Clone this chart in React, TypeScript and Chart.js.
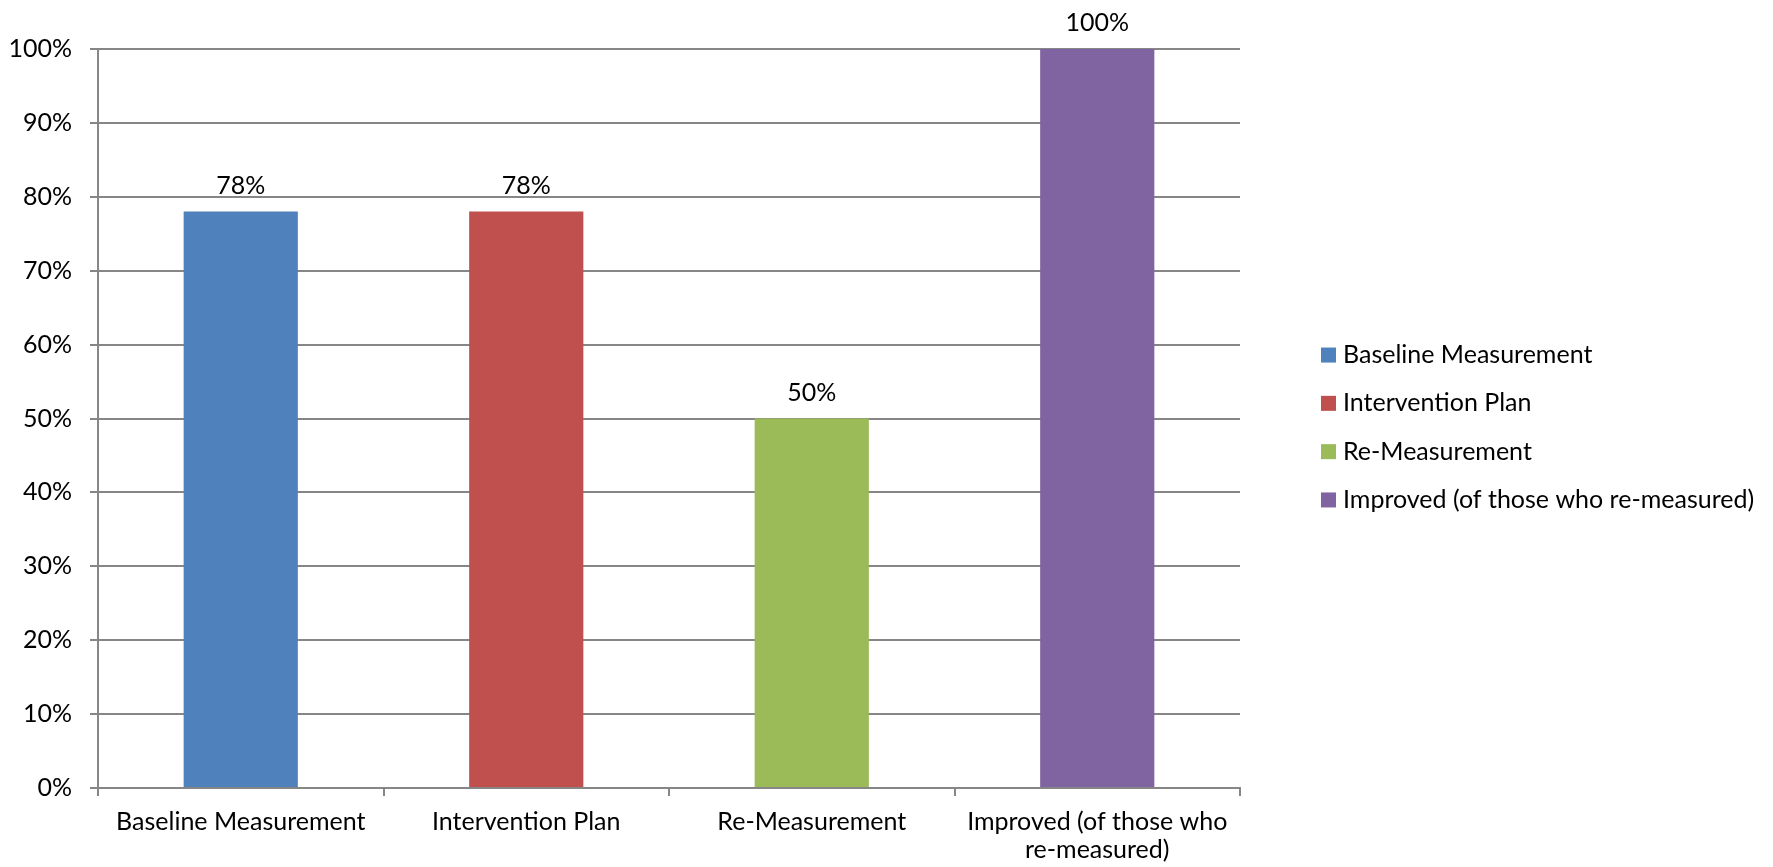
import React, { useEffect, useRef } from "react";
import { Chart, registerables } from "chart.js";

Chart.register(...registerables);

// Categories shown in the legend
const categories: string[] = [
  "Baseline Measurement",
  "Intervention Plan",
  "Re-Measurement",
  "Improved (of those who re-measured)",
];

// Axis labels under each bar (last one wraps onto two lines)
const axisLabels: (string | string[])[] = [
  "Baseline Measurement",
  "Intervention Plan",
  "Re-Measurement",
  ["Improved (of those who", "re-measured)"],
];

// Percent of records in each stage
const percentValues: number[] = [78, 78, 50, 100];

const barColors: string[] = ["#4F81BD", "#C0504D", "#9BBB59", "#8064A2"];

const yTickValues: number[] = [0, 10, 20, 30, 40, 50, 60, 70, 80, 90, 100];

const FONT = "Lato, 'Open Sans', sans-serif";
const FONT_SIZE = 25;
const GRID = "#868686";
const TEXT = "#000000";

// Value labels above each bar
const valueLabelPlugin = {
  id: "valueLabels",
  afterDatasetsDraw(chart: any) {
    const { ctx } = chart;
    const meta = chart.getDatasetMeta(0);
    ctx.save();
    ctx.font = `${FONT_SIZE}px ${FONT}`;
    ctx.fillStyle = TEXT;
    ctx.textAlign = "center";
    ctx.textBaseline = "middle";
    meta.data.forEach((bar: any, i: number) => {
      const v = chart.data.datasets[0].data[i];
      ctx.fillText(`${v}%`, bar.x, bar.y - 26);
    });
    ctx.restore();
  },
};

// Vertical legend to the right of the plot area
const sideLegendPlugin = {
  id: "sideLegend",
  afterDraw(chart: any) {
    const { ctx, chartArea } = chart;
    const labels: string[] = chart.data.datasets[0].legendLabels;
    const colors: string[] = chart.data.datasets[0].backgroundColor;
    const boxX = chartArea.right + 81;
    const textX = boxX + 22;
    const rowGap = 48.3;
    const mid = (chartArea.top + chartArea.bottom) / 2 + 9;
    ctx.save();
    ctx.font = `${FONT_SIZE}px ${FONT}`;
    ctx.textAlign = "left";
    ctx.textBaseline = "middle";
    labels.forEach((label, i) => {
      const cy = mid + (i - (labels.length - 1) / 2) * rowGap;
      ctx.fillStyle = colors[i];
      ctx.fillRect(boxX, cy - 7.5, 15, 15);
      ctx.fillStyle = TEXT;
      ctx.fillText(label, textX, cy);
    });
    ctx.restore();
  },
};

export default function App() {
  const canvasRef = useRef<HTMLCanvasElement | null>(null);

  useEffect(() => {
    if (!canvasRef.current) return;
    const chart = new Chart(canvasRef.current, {
      type: "bar",
      data: {
        labels: axisLabels,
        datasets: [
          {
            data: percentValues,
            backgroundColor: barColors,
            borderWidth: 0,
            barPercentage: 0.4,
            categoryPercentage: 1,
            legendLabels: categories,
          } as any,
        ],
      },
      options: {
        animation: false,
        responsive: false,
        maintainAspectRatio: false,
        layout: { padding: { top: 49, right: 533, bottom: 0, left: 0 } },
        plugins: {
          legend: { display: false },
          tooltip: { enabled: false },
        },
        scales: {
          x: {
            afterFit: (scale: any) => {
              scale.height = 79;
            },
            grid: {
              display: true,
              drawOnChartArea: false,
              drawTicks: true,
              tickLength: 8,
              offset: true,
              color: GRID,
              lineWidth: 2,
            },
            border: { display: true, color: GRID, width: 2 },
            ticks: {
              color: TEXT,
              font: { family: FONT, size: FONT_SIZE, lineHeight: 28 / FONT_SIZE },
              padding: 12,
              maxRotation: 0,
              autoSkip: false,
            },
          },
          y: {
            min: 0,
            max: 100,
            afterFit: (scale: any) => {
              scale.width = 98;
            },
            afterBuildTicks: (scale: any) => {
              scale.ticks = yTickValues.map((v) => ({ value: v }));
            },
            grid: {
              color: GRID,
              lineWidth: 2,
              drawTicks: true,
              tickLength: 8,
            },
            border: { display: true, color: GRID, width: 2 },
            ticks: {
              color: TEXT,
              font: { family: FONT, size: FONT_SIZE },
              padding: 18,
              callback: (v: any) => `${v}%`,
            },
          },
        },
      },
      plugins: [valueLabelPlugin, sideLegendPlugin],
    });
    return () => chart.destroy();
  }, []);

  return (
    <div style={{ position: "absolute", left: 0, top: 0, width: 1773, height: 867, background: "#fff" }}>
      <canvas ref={canvasRef} width={1773} height={867} style={{ width: 1773, height: 867 }} />
    </div>
  );
}
